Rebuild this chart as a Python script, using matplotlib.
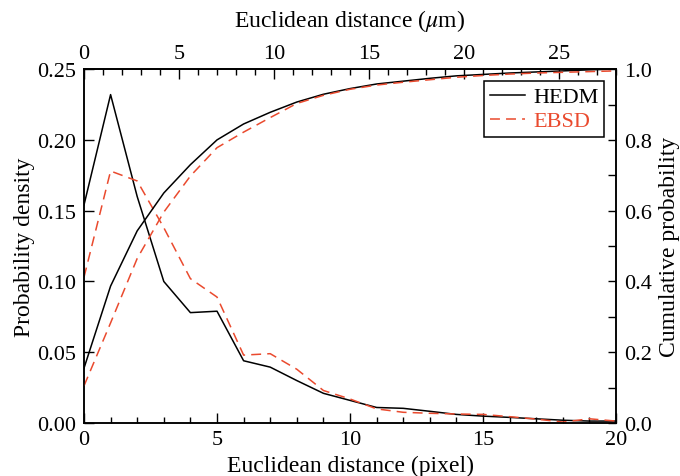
import matplotlib
matplotlib.use('Agg')
import matplotlib.pyplot as plt
from matplotlib.ticker import MultipleLocator

# distance in pixels (bottom axis); 1 pixel = 1.4 um on the top axis
pixel = list(range(21))
um_per_pixel = 1.4

hedm_pdf = [0.154, 0.232, 0.160, 0.100, 0.078, 0.079, 0.044, 0.0395, 0.030,
            0.021, 0.016, 0.011, 0.0104, 0.0083, 0.0061, 0.0049, 0.0040,
            0.0030, 0.0020, 0.0014, 0.0014]
ebsd_pdf = [0.103, 0.178, 0.171, 0.138, 0.102, 0.089, 0.048, 0.049, 0.038,
            0.023, 0.017, 0.010, 0.0076, 0.0069, 0.0064, 0.0061, 0.0045,
            0.0028, 0.0007, 0.0030, 0.0014]

hedm_cdf = [0.155, 0.387, 0.543, 0.650, 0.730, 0.800, 0.845, 0.878, 0.907,
            0.929, 0.945, 0.958, 0.966, 0.974, 0.981, 0.985, 0.989, 0.992,
            0.995, 0.998, 1.000]
ebsd_cdf = [0.105, 0.283, 0.465, 0.596, 0.698, 0.778, 0.822, 0.863, 0.903,
            0.926, 0.943, 0.955, 0.963, 0.970, 0.977, 0.982, 0.986, 0.989,
            0.991, 0.993, 0.995]

RED = '#ea4a2e'

plt.rcParams['font.family'] = ['Liberation Serif', 'DejaVu Serif']
plt.rcParams['mathtext.fontset'] = 'stix'
plt.rcParams['axes.linewidth'] = 1.1

fig = plt.figure(figsize=(6.8, 4.77), dpi=100)
ax = fig.add_axes([0.1235, 0.111, 0.7825, 0.742])
ax2 = ax.twinx()

dash = (0, (6.5, 4))
ax.plot(pixel, hedm_pdf, color='black', lw=1.1, label='HEDM')
ax.plot(pixel, ebsd_pdf, color=RED, lw=1.1, ls=dash, label='EBSD')
ax2.plot(pixel, hedm_cdf, color='black', lw=1.1)
ax2.plot(pixel, ebsd_cdf, color=RED, lw=1.1, ls=dash)

ax.set_xlim(0, 20)
ax.set_ylim(0, 0.25)
ax2.set_ylim(0, 1.0)

ax.xaxis.set_major_locator(MultipleLocator(5))
ax.xaxis.set_minor_locator(MultipleLocator(1))
ax.yaxis.set_major_locator(MultipleLocator(0.05))
ax.yaxis.set_major_formatter(plt.FormatStrFormatter('%.2f'))
ax2.yaxis.set_major_locator(MultipleLocator(0.2))
ax2.yaxis.set_minor_locator(MultipleLocator(0.1))
ax2.yaxis.set_major_formatter(plt.FormatStrFormatter('%.1f'))

top = ax.secondary_xaxis('top', functions=(lambda x: x * um_per_pixel,
                                           lambda x: x / um_per_pixel))
top.xaxis.set_major_locator(MultipleLocator(5))
top.xaxis.set_minor_locator(MultipleLocator(1))

for a in (ax, ax2, top):
    a.tick_params(which='major', direction='in', length=7, width=1.0,
                  labelsize=16)
    a.tick_params(which='minor', direction='in', length=4, width=1.0)
ax.tick_params(axis='y', pad=6)
ax.tick_params(axis='x', pad=5)
ax2.tick_params(axis='y', which='both', length=6, pad=6)
top.tick_params(pad=4.5)

ax.set_xlabel('Euclidean distance (pixel)', fontsize=17, labelpad=4)
ax.set_ylabel('Probability density', fontsize=17, labelpad=1)
ax2.set_ylabel('Cumulative probability', fontsize=17, labelpad=5)
top.set_xlabel(r'Euclidean distance ($\mu$m)', fontsize=17, labelpad=13)

leg = ax.legend(loc='upper right', fontsize=16, frameon=True, fancybox=False,
                framealpha=1, edgecolor='black', borderaxespad=0.55,
                handlelength=1.6, handletextpad=0.35, labelspacing=0.15,
                borderpad=0.25)
leg.get_frame().set_linewidth(1.1)
leg.get_texts()[1].set_color(RED)

fig.savefig('out.png', dpi=100)
